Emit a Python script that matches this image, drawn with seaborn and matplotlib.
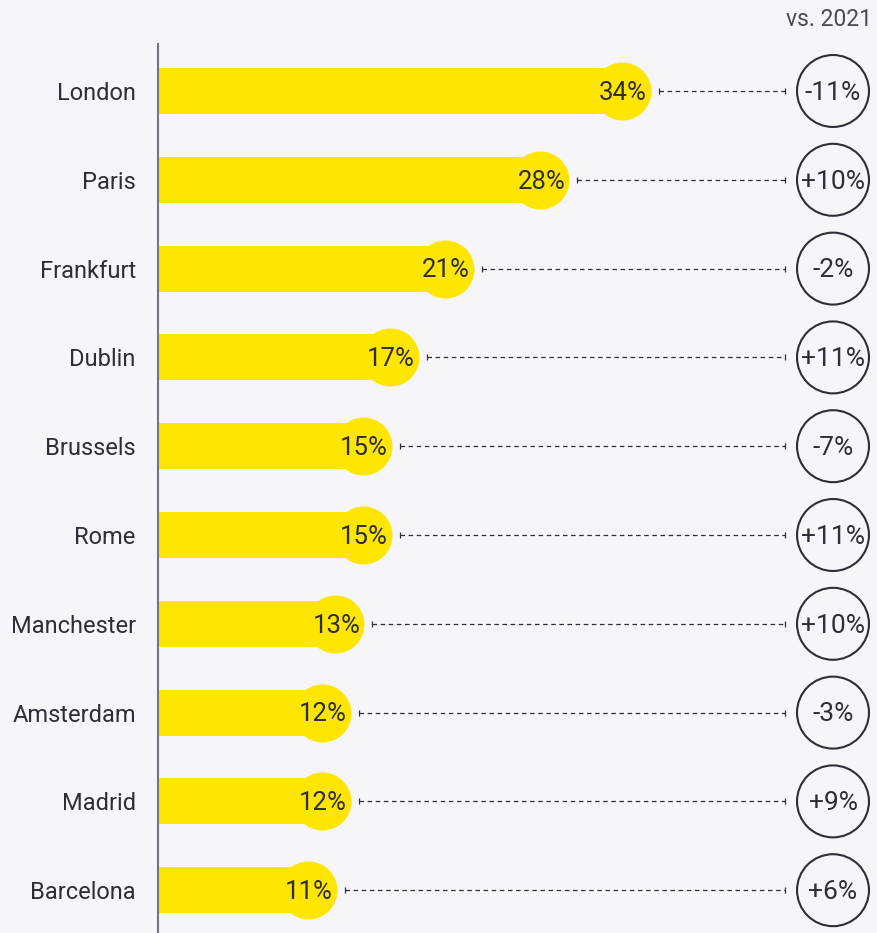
import matplotlib
matplotlib.use("Agg")
import matplotlib.pyplot as plt
import pandas as pd
import seaborn as sns

cities = ["London", "Paris", "Frankfurt", "Dublin", "Brussels", "Rome",
          "Manchester", "Amsterdam", "Madrid", "Barcelona"]
share = [34, 28, 21, 17, 15, 15, 13, 12, 12, 11]
change = [-11, 10, -2, 11, -7, 11, 10, -3, 9, 6]
header = "vs. 2021"

YELLOW = "#FFE600"
DARK = "#2E2E38"
BG = "#F5F5FA"

sns.set_theme(style="white")
plt.rcParams["font.family"] = ["Roboto", "DejaVu Sans"]

df = pd.DataFrame({"city": cities, "share": share, "change": change})

W, H = 878, 933
fig = plt.figure(figsize=(W / 100, H / 100), dpi=100, facecolor=BG)
ax = fig.add_axes([158 / W, 0, 720 / W, (H - 44) / H])
ax.set_facecolor(BG)

px = 13.65  # pixels per percentage point
sns.barplot(data=df, y="city", x="share", orient="h", color=YELLOW,
            width=0.52, saturation=1, ax=ax, linewidth=0)

ypos = range(len(df))
ax.scatter(df["share"], ypos, s=1744, color=YELLOW, zorder=3, linewidths=0)
for i, row in df.iterrows():
    ax.text(row["share"] + 25 / px, i + 0.02, f"{row['share']}%", ha="right", va="center",
            fontsize=18.5, color=DARK, zorder=4)
    x0 = row["share"] + 37 / px
    x1 = (785 - 158) / px
    ax.plot([x0, x1], [i, i], color=DARK, lw=0.9, dashes=(3.6, 2.9), zorder=2)
    ax.plot([x0, x1], [i, i], ls="none", marker="|", ms=5, mew=0.9, color=DARK, zorder=2)
    sign = "+" if row["change"] > 0 else "-"
    xc = (833 - 158) / px
    ax.scatter([xc], [i], s=2684, facecolor="none", edgecolor=DARK, linewidths=1.5, zorder=3)
    ax.text(xc, i + 0.02, f"{sign}{abs(row['change'])}%", ha="center", va="center",
            fontsize=19, color=DARK, zorder=4)

ax.set_xlim(0, 720 / px)
ax.set_ylim((H - 91) / 88.8, -47 / 88.8)
ax.set_xlabel("")
ax.set_ylabel("")
ax.set_xticks([])
for s in ["top", "right", "bottom"]:
    ax.spines[s].set_visible(False)
ax.spines["left"].set_color("#747480")
ax.spines["left"].set_linewidth(1.5)
ax.tick_params(axis="y", length=0, pad=16, labelsize=17, labelcolor=DARK)

fig.text(829 / W, 1 - 20 / H, header, ha="center", va="center", fontsize=16.5, color="#4a4a55")

fig.savefig("out.png", dpi=100, facecolor=BG)
